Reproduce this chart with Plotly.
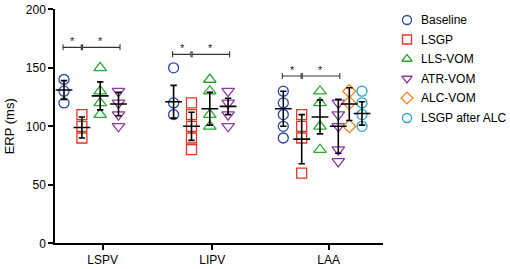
import plotly.graph_objects as go

# ---------------- data ----------------
categories = ["LSPV", "LIPV", "LAA"]
groups = ["Baseline", "LSGP", "LLS-VOM", "ATR-VOM", "ALC-VOM", "LSGP after ALC"]

# individual values per category (dict keyed by group)
lspv_vals = {
    "Baseline": [140, 130, 120],
    "LSGP": [110, 100, 90],
    "LLS-VOM": [150, 130, 120, 110],
    "ATR-VOM": [130, 120, 110, 100],
}
lipv_vals = {
    "Baseline": [150, 120, 110],
    "LSGP": [120, 110, 100, 90, 80],
    "LLS-VOM": [140, 130, 110, 100],
    "ATR-VOM": [130, 120, 110, 100],
}
laa_vals = {
    "Baseline": [130, 120, 110, 100, 90],
    "LSGP": [110, 100, 90, 60],
    "LLS-VOM": [130, 120, 100, 80],
    "ATR-VOM": [120, 110, 100, 80, 70],
    "ALC-VOM": [130, 120, 100],
    "LSGP after ALC": [130, 120, 110, 100],
}
# mean and SD
lspv_mean = [131, 99, 126, 119]
lspv_sd = [8, 9, 12, 10]
lipv_mean = [121, 100, 115, 117]
lipv_sd = [14, 12, 14, 7]
laa_mean = [115, 89, 108, 100, 119, 111]
laa_sd = [15, 21, 14.5, 23, 14, 10]

# significance brackets heights (Baseline–LSGP–ATR-VOM)
sig_heights = [167.5, 161.5, 143]

# ---------------- style / layout ----------------
W, H = 510, 269
colors = {
    "Baseline": "#2a46a8",
    "LSGP": "#ee3124",
    "LLS-VOM": "#2aa632",
    "ATR-VOM": "#8b3a9e",
    "ALC-VOM": "#f28322",
    "LSGP after ALC": "#22a3c9",
}
symbols = {
    "Baseline": "circle-open",
    "LSGP": "square-open",
    "LLS-VOM": "triangle-up-open",
    "ATR-VOM": "triangle-down-open",
    "ALC-VOM": "diamond-open",
    "LSGP after ALC": "circle-open",
}
sizes = {"Baseline": 10, "LSGP": 10, "LLS-VOM": 11, "ATR-VOM": 11,
         "ALC-VOM": 10, "LSGP after ALC": 10}

# plot area in pixels
px_left, px_right, px_top, px_bottom = 55, 383, 9.3, 243.3

# x axis measured in pixels from the y axis
cat_pos = [47.7, 157.3, 273.7]
offsets = [
    [-38.7, -20.8, -2.5, 15.8],
    [-38.7, -20.8, -2.5, 15.8],
    [-45.4, -27.0, -8.7, 9.6, 20.6, 33.3],
]
cat_vals = [lspv_vals, lipv_vals, laa_vals]
cat_means = [lspv_mean, lipv_mean, laa_mean]
cat_sds = [lspv_sd, lipv_sd, laa_sd]

fig = go.Figure()

for g in groups:
    xs, ys = [], []
    for ci, vals in enumerate(cat_vals):
        if g in vals:
            gi = list(vals.keys()).index(g)
            x = cat_pos[ci] + offsets[ci][gi]
            for v in vals[g]:
                xs.append(x)
                ys.append(v)
    fig.add_trace(go.Scatter(
        x=xs, y=ys, mode="markers", name=g, showlegend=False,
        marker=dict(symbol=symbols[g], size=sizes[g], color=colors[g],
                    line=dict(width=1.3, color=colors[g])),
        cliponaxis=False,
    ))

mx, my, msd = [], [], []
for ci in range(3):
    for gi, (m, s) in enumerate(zip(cat_means[ci], cat_sds[ci])):
        mx.append(cat_pos[ci] + offsets[ci][gi])
        my.append(m)
        msd.append(s)
fig.add_trace(go.Scatter(
    x=mx, y=my, mode="markers", showlegend=False,
    marker=dict(symbol="line-ew", size=12, color="black",
                line=dict(width=1.6, color="black")),
    error_y=dict(type="data", array=msd, visible=True, color="black",
                 thickness=1.6, width=3.2),
))

ypx = (px_bottom - px_top) / 200.0
tick = 3 / ypx
for ci, h in enumerate(sig_heights):
    x0 = cat_pos[ci] + offsets[ci][0] - 1
    x1 = cat_pos[ci] + offsets[ci][1]
    x2 = cat_pos[ci] + offsets[ci][3] + 1.5
    line = dict(color="#333333", width=1.1)
    fig.add_shape(type="line", x0=x0, x1=x1 - 0.6, y0=h, y1=h, line=line)
    fig.add_shape(type="line", x0=x1 + 0.6, x1=x2, y0=h, y1=h, line=line)
    for xx in [x0, x1 - 0.6, x1 + 0.6, x2]:
        fig.add_shape(type="line", x0=xx, x1=xx, y0=h - tick, y1=h + tick, line=line)
    for xa, xb in [(x0, x1), (x1, x2)]:
        fig.add_annotation(x=(xa + xb) / 2, y=h, text="*", showarrow=False,
                           yshift=6, font=dict(size=11, color="#222222"))

# manual legend on a hidden full-figure pixel subplot
leg_x_marker, leg_x_text = 407, 419
leg_rows = [20, 39.5, 59, 78.5, 98, 118]
fig.add_trace(go.Scatter(
    x=[leg_x_marker] * len(groups), y=leg_rows, xaxis="x2", yaxis="y2",
    mode="markers", showlegend=False, hoverinfo="skip",
    marker=dict(symbol=[symbols[g] for g in groups], size=9,
                color=[colors[g] for g in groups],
                line=dict(width=1.3, color=[colors[g] for g in groups])),
))
font_family = "Arial, Liberation Sans, sans-serif"
for g, yy in zip(groups, leg_rows):
    fig.add_annotation(x=leg_x_text, y=yy, xref="x2", yref="y2", text=g,
                       showarrow=False, xanchor="left", yanchor="middle",
                       font=dict(size=12, family=font_family, color="black"))

fig.update_layout(
    width=W, height=H,
    margin=dict(l=0, r=0, t=0, b=0, autoexpand=False),
    paper_bgcolor="white", plot_bgcolor="rgba(0,0,0,0)",
    font=dict(family=font_family, size=12, color="black"),
    showlegend=False,
    xaxis=dict(domain=[px_left / W, px_right / W], range=[0, px_right - px_left],
               automargin=False, showgrid=False, zeroline=False,
               tickmode="array", tickvals=cat_pos, ticktext=categories,
               ticks="outside", ticklen=5, tickwidth=1.5, tickcolor="black",
               showline=True, linecolor="black", linewidth=1.5,
               tickfont=dict(size=12)),
    yaxis=dict(domain=[1 - px_bottom / H, 1 - px_top / H], range=[0, 200],
               automargin=False, showgrid=False, zeroline=False,
               tickvals=[0, 50, 100, 150, 200],
               ticks="outside", ticklen=5, tickwidth=1.5, tickcolor="black",
               showline=True, linecolor="black", linewidth=1.5,
               tickfont=dict(size=12),
               title=dict(text="ERP (ms)", font=dict(size=13), standoff=8)),
    xaxis2=dict(domain=[0, 1], range=[0, W], visible=False, anchor="y2",
                automargin=False, fixedrange=True),
    yaxis2=dict(domain=[0, 1], range=[H, 0], visible=False, anchor="x2",
                automargin=False, fixedrange=True),
)

fig.write_html(
    "out.html",
    config={"displayModeBar": False},
    post_script="document.body.style.margin='0';document.body.style.padding='0';"
                "document.body.style.overflow='hidden';",
)
